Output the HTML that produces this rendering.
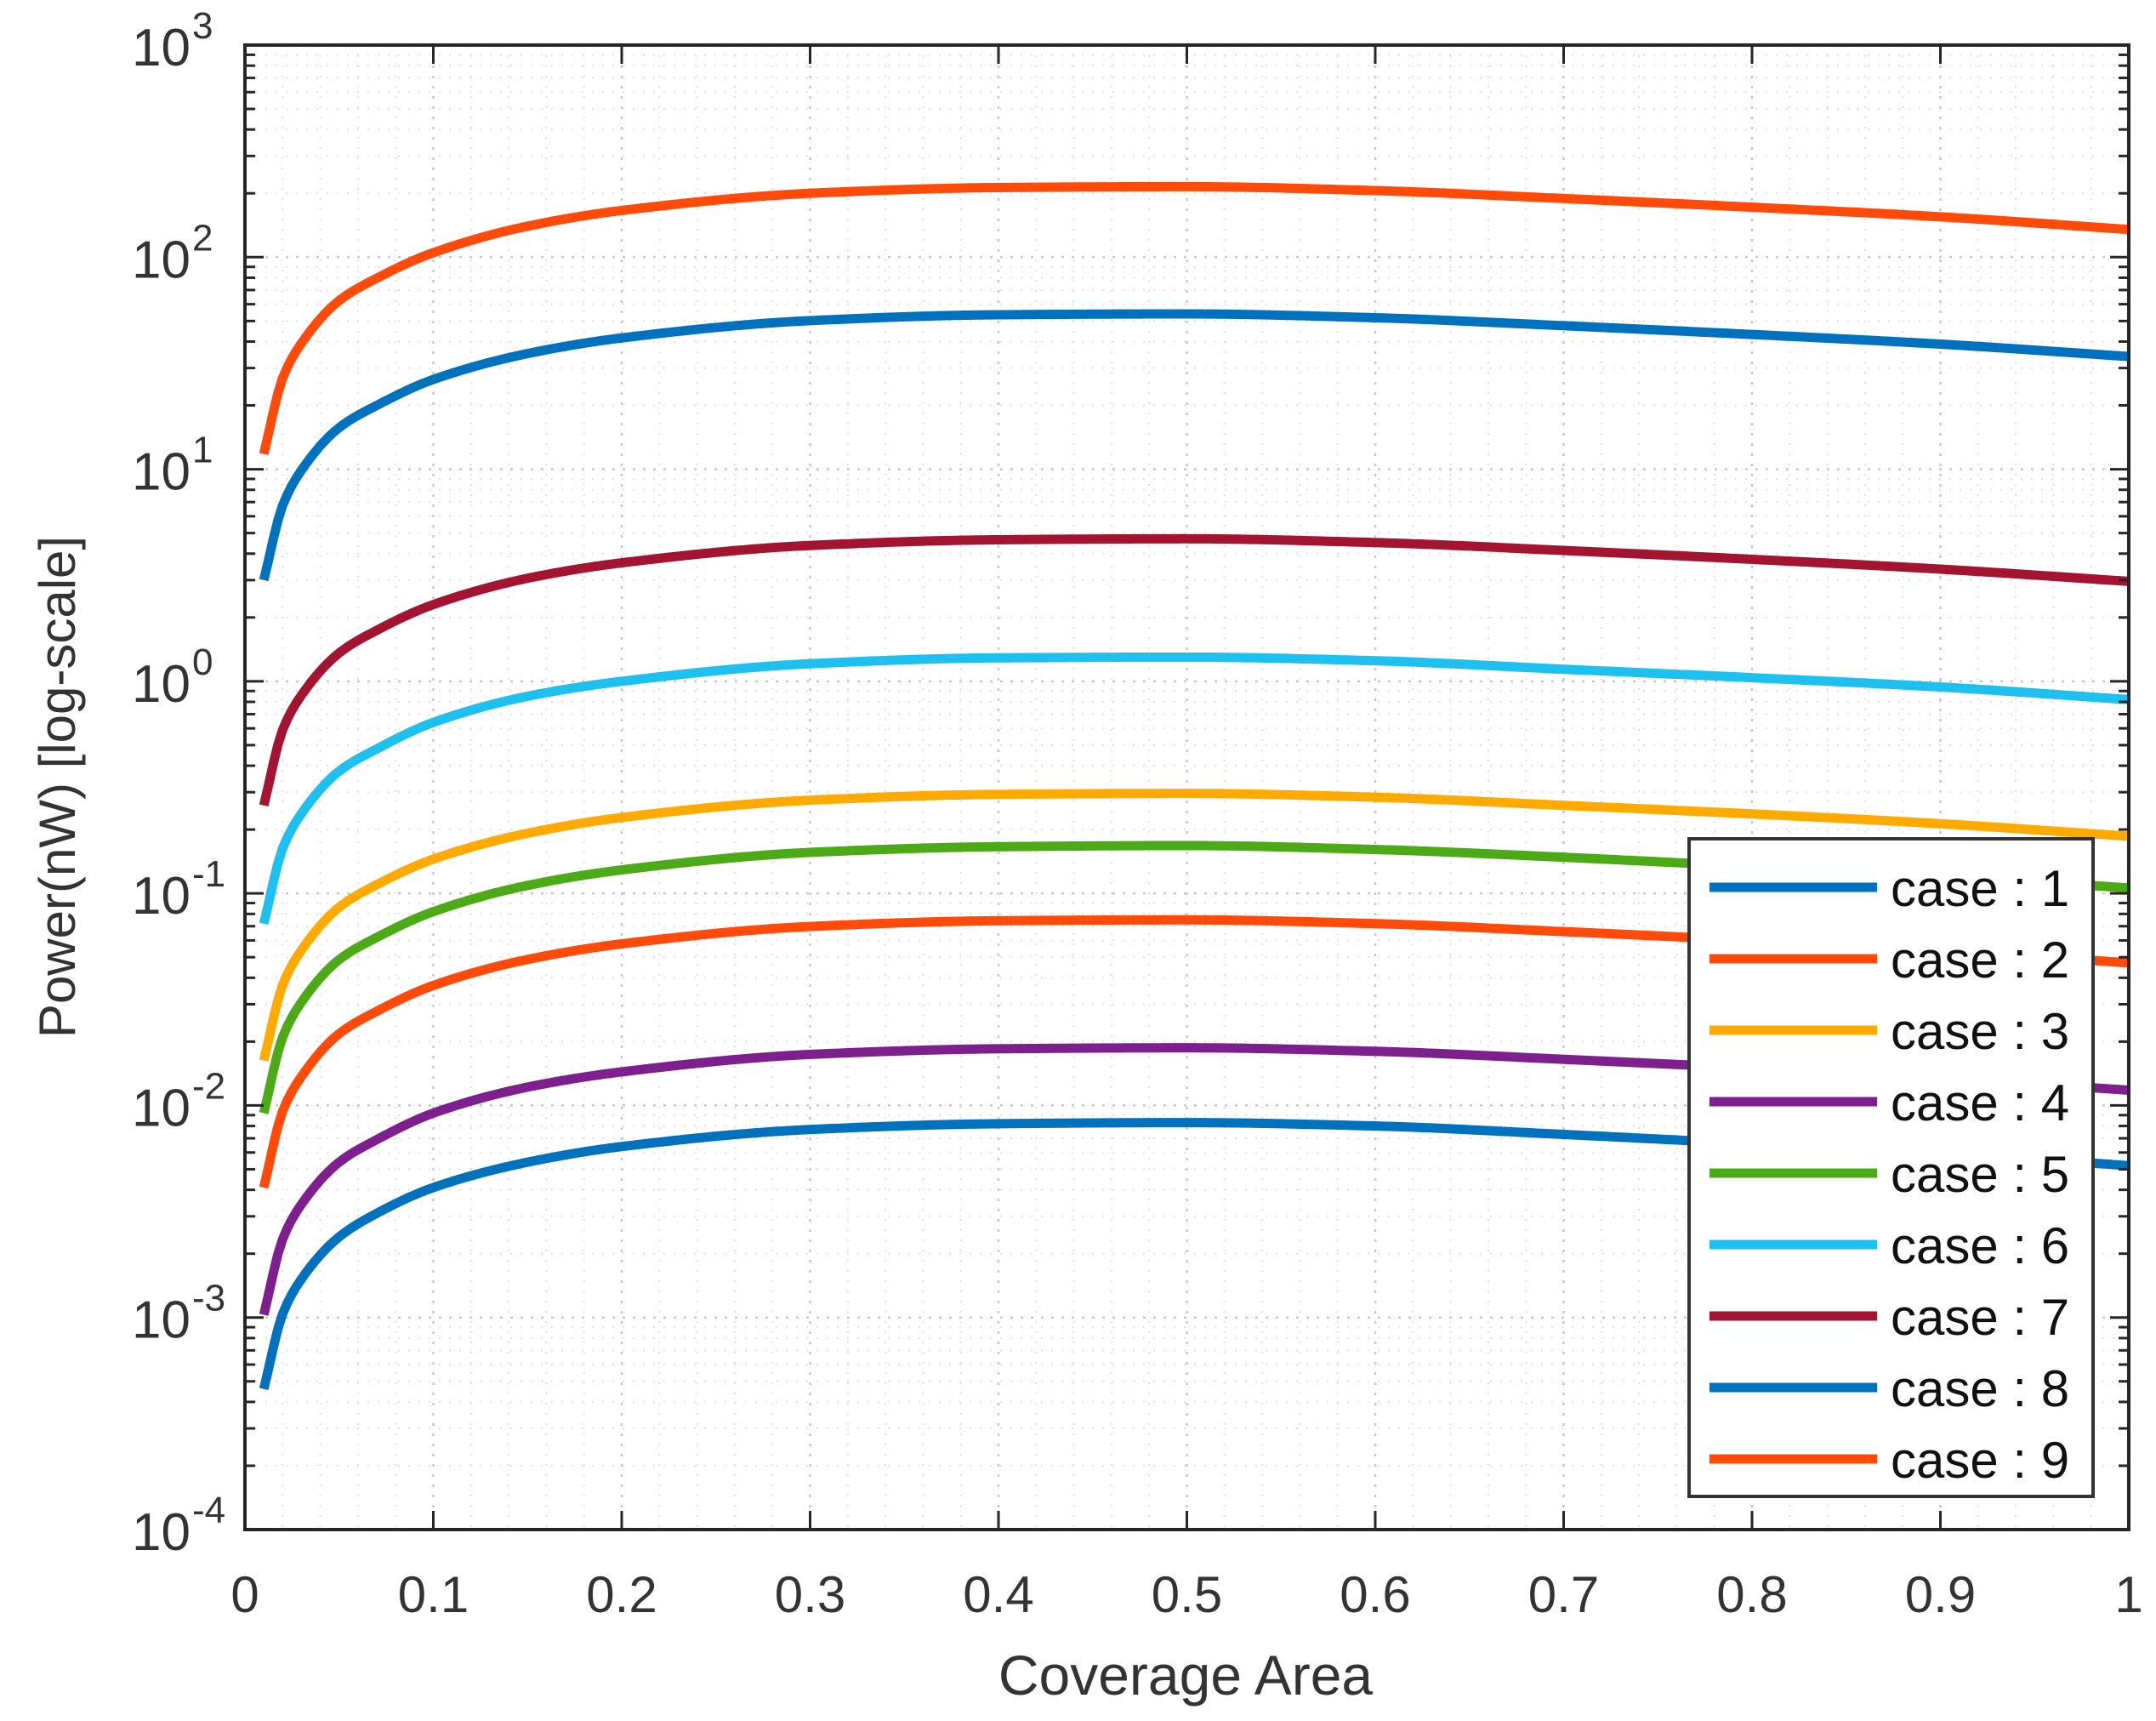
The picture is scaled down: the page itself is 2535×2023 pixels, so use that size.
<!DOCTYPE html>
<html><head><meta charset="utf-8"><style>
html,body{margin:0;padding:0;background:#fff;}
svg{display:block;font-family:"Liberation Sans",Arial,sans-serif;}
</style></head><body>
<svg id="chart" width="2535" height="2023" viewBox="0 0 2535 2023" xmlns="http://www.w3.org/2000/svg">
<rect width="2535" height="2023" fill="#fff"/>
<g id="grid"></g>
<g id="series"></g>
<g id="axes"></g>
<g id="legend"></g>
<text x="1394" y="1992" font-size="66" text-anchor="middle" fill="#333">Coverage Area</text>
<text x="0" y="0" font-size="60" text-anchor="middle" fill="#333" transform="translate(88,925) rotate(-90)">Power(nW) [log-scale]</text>
</svg>
<script>
const xs = [0.01,0.02,0.03,0.05,0.07,0.1,0.15,0.2,0.3,0.4,0.5,0.6,0.7,0.8,0.9,1.0];
const caseNames = ["case : 1","case : 2","case : 3","case : 4","case : 5","case : 6","case : 7","case : 8","case : 9"];
const case1 = [0.00046,0.00104,0.00152,0.0024,0.0031,0.0041,0.0054,0.0064,0.0077,0.0082,0.0083,0.008,0.0073,0.0066,0.006,0.0052];
const case2 = [0.0041,0.0094,0.0137,0.0218,0.0278,0.0368,0.0488,0.0578,0.0698,0.0743,0.075,0.072,0.066,0.06,0.054,0.047];
const case3 = [0.0163,0.037,0.054,0.086,0.11,0.145,0.192,0.228,0.275,0.293,0.296,0.284,0.26,0.237,0.213,0.186];
const case4 = [0.00103,0.00234,0.00342,0.0054,0.0069,0.0092,0.0122,0.0144,0.0174,0.0185,0.0187,0.018,0.0165,0.015,0.0135,0.0118];
const case5 = [0.0092,0.021,0.0307,0.0487,0.062,0.082,0.109,0.129,0.156,0.166,0.168,0.161,0.148,0.134,0.121,0.106];
const case6 = [0.072,0.163,0.238,0.377,0.48,0.64,0.85,1.0,1.21,1.29,1.3,1.25,1.14,1.04,0.94,0.82];
const case7 = [0.26,0.59,0.86,1.36,1.74,2.3,3.06,3.62,4.37,4.65,4.7,4.51,4.14,3.76,3.38,2.96];
const case8 = [3.0,6.75,9.9,15.7,20,26.5,35.1,41.6,50.2,53.5,54,51.8,47.5,43.2,38.9,34];
const case9 = [11.8,26.9,39.3,62.4,79.6,105,140,166,200,213,215,206,189,172,155,135];
const xTicks = [0,0.1,0.2,0.3,0.4,0.5,0.6,0.7,0.8,0.9,1];
const xTickLabels = ["0","0.1","0.2","0.3","0.4","0.5","0.6","0.7","0.8","0.9","1"];
const yExps = [3,2,1,0,-1,-2,-3,-4];

const allSeries = [case1,case2,case3,case4,case5,case6,case7,case8,case9];
const colors = ["#0072BD","#FF4A0A","#FFAA00","#7E1F8E","#4DAA17","#1EC0F0","#A2142F","#0072BD","#FF4A0A"];
const L=288,R=2503,T=53,B=1798, yMin=-4, yMax=3;
const NS="http://www.w3.org/2000/svg";
function X(v){return L+(R-L)*v;}
function Y(v){return B-(B-T)*(Math.log10(v)-yMin)/(yMax-yMin);}
function el(tag,attrs,parent){const e=document.createElementNS(NS,tag);for(const k in attrs)e.setAttribute(k,attrs[k]);parent.appendChild(e);return e;}

const grid=document.getElementById('grid');
for(let i=1;i<50;i++){const v=i/50;const x=X(v);const major=(i%5===0);
 const g=el('line',{x1:x,x2:x,y1:T,y2:B,stroke:major?'#c8c8c8':'#e0e0e0','stroke-width':major?2.5:2,'stroke-dasharray':major?'3 9':'2 10'},grid);
 
 }
for(let e=yMin;e<yMax;e++){for(let m=1;m<10;m++){const v=m*Math.pow(10,e);const y=Y(v);const major=(m===1);
 if(e===yMin&&m===1)continue;
 const g=el('line',{x1:L,x2:R,y1:y,y2:y,stroke:major?'#c8c8c8':'#e0e0e0','stroke-width':major?2.5:2,'stroke-dasharray':major?'3 9':'2 10'},grid);
 
 }}

// monotone cubic (Fritsch-Carlson) interpolation in log space
function monotone(xa,ya){const n=xa.length,d=[],m=new Array(n);
 for(let i=0;i<n-1;i++)d.push((ya[i+1]-ya[i])/(xa[i+1]-xa[i]));
 m[0]=d[0];m[n-1]=d[n-2];
 for(let i=1;i<n-1;i++){if(d[i-1]*d[i]<=0)m[i]=0;else{const w1=2*(xa[i+1]-xa[i])+(xa[i]-xa[i-1]),w2=(xa[i+1]-xa[i])+2*(xa[i]-xa[i-1]);m[i]=(w1+w2)/(w1/d[i-1]+w2/d[i]);}}
 return function(x){let k=0;while(k<n-2&&x>xa[k+1])k++;const h=xa[k+1]-xa[k],t=(x-xa[k])/h,t2=t*t,t3=t2*t;
  return (2*t3-3*t2+1)*ya[k]+(t3-2*t2+t)*h*m[k]+(-2*t3+3*t2)*ya[k+1]+(t3-t2)*h*m[k+1];};}
const sg=document.getElementById('series');
function pathFor(vals){const f=monotone(xs,vals.map(v=>Math.log10(v)));let d='';
 const N=400;for(let i=0;i<=N;i++){const x=xs[0]+(xs[xs.length-1]-xs[0])*i/N;const lv=f(x);
  d+=(i?'L':'M')+X(x).toFixed(2)+','+Y(Math.pow(10,lv)).toFixed(2);}
 return d;}
allSeries.forEach((vals,i)=>{const p=el('path',{d:pathFor(vals),fill:'none',stroke:colors[i],'stroke-width':11,'stroke-linecap':'butt','stroke-linejoin':'round'},sg);
 
 });

const ax=document.getElementById('axes');
const frame=el('rect',{x:L,y:T,width:R-L,height:B-T,fill:'none',stroke:'#262626','stroke-width':4},ax);


xTicks.forEach((v,i)=>{const x=X(v);
 el('line',{x1:x,x2:x,y1:B,y2:B-22,stroke:'#262626','stroke-width':3},ax);
 el('line',{x1:x,x2:x,y1:T,y2:T+22,stroke:'#262626','stroke-width':3},ax);
 const t=el('text',{x:x,y:1895,'font-size':60,'text-anchor':'middle',fill:'#333'},ax);t.textContent=xTickLabels[i];
 
 });
for(let e=yMin;e<=yMax;e++){for(let m=1;m<10;m++){if(e===yMax&&m>1)break;const y=Y(m*Math.pow(10,e));const len=m===1?22:12;
 el('line',{x1:L,x2:L+len,y1:y,y2:y,stroke:'#262626','stroke-width':3},ax);
 el('line',{x1:R,x2:R-len,y1:y,y2:y,stroke:'#262626','stroke-width':3},ax);}}
yExps.forEach(e=>{const y=Y(Math.pow(10,e));
 const t=el('text',{x:224,y:y+24,'font-size':62,'text-anchor':'end',fill:'#333'},ax);t.textContent='10';
 
 
 const s=el('text',{x:226,y:y-8,'font-size':44,'text-anchor':'start',fill:'#333'},ax);s.textContent=String(e);
 
 });

const lg=document.getElementById('legend');
const box=el('rect',{x:1986,y:986,width:475,height:773,fill:'#fff',stroke:'#333','stroke-width':4},lg);


caseNames.forEach((n,i)=>{const y=1043+i*84;
 const l=el('line',{x1:2010,x2:2207,y1:y,y2:y,stroke:colors[i],'stroke-width':11},lg);
 
 
 const t=el('text',{x:2223,y:y+22,'font-size':60,fill:'#111'},lg);t.textContent=n;
 
 });
</script>
</body></html>
